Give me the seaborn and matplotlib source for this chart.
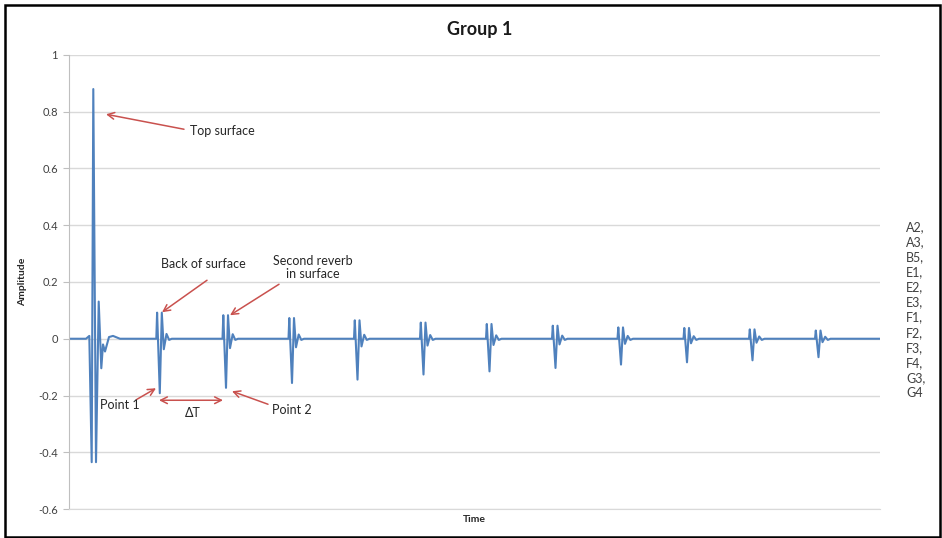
import matplotlib
matplotlib.use("Agg")
import seaborn as sns
from matplotlib import pyplot as plt
from matplotlib.patches import Rectangle

# top surface echo
top_time = [0, 17, 20.3, 22.7, 24.3, 27, 29.7, 32.3, 34, 36, 40, 44, 51]
top_amp = [0, 0, 0.01, -0.435, 0.88, -0.435, 0.131, -0.104, -0.02, -0.045, 0.006, 0.01, 0]

# reverb echoes (centre = negative lobe)
echo_centre = [90.8, 157, 223, 288.5, 354.5, 420.5, 486.5, 552, 618, 683.5, 749.5]
echo_peak = [0.092, 0.083, 0.073, 0.065, 0.057, 0.052, 0.046, 0.040, 0.038, 0.033, 0.029]
echo_trough = [-0.192, -0.173, -0.156, -0.144, -0.126, -0.115, -0.103, -0.091, -0.083, -0.076, -0.065]
echo_dip = [-0.037, -0.033, -0.030, -0.027, -0.024, -0.022, -0.020, -0.018, -0.016, -0.014, -0.012]
echo_bump = [0.017, 0.016, 0.015, 0.014, 0.013, 0.012, 0.011, 0.010, 0.009, 0.008, 0.007]

series_names = ["A2,", "A3,", "B5,", "E1,", "E2,", "E3,", "F1,", "F2,", "F3,", "F4,", "G3,", "G4"]
y_ticks = [-0.6, -0.4, -0.2, 0, 0.2, 0.4, 0.6, 0.8, 1]
t_end = 811

# build the waveform
time = list(top_time)
amp = list(top_amp)
for c, p, n, d, b in zip(echo_centre, echo_peak, echo_trough, echo_dip, echo_bump):
    time += [c - 3.5, c - 2.7, c, c + 2, c + 4, c + 6.7, c + 9.3, c + 12]
    amp += [0, p, n, p, d, b, -0.004, 0]
time.append(t_end)
amp.append(0)

sns.set_style("white")
plt.rcParams["font.family"] = ["Lato", "DejaVu Sans"]

W, H = 942, 538
fig = plt.figure(figsize=(W / 100, H / 100), dpi=100)
ax = fig.add_axes([69 / W, 29 / H, (880 - 69) / W, (509 - 55) / H])

sns.lineplot(x=time, y=amp, ax=ax, color="#4F81BD", linewidth=1.5,
             sort=False, estimator=None)

ax.set_xlim(0, t_end)
ax.set_ylim(-0.6, 1)
ax.set_yticks(y_ticks)
ax.set_yticklabels([f"{v:g}" for v in y_ticks], fontsize=8, color="#404040")
ax.set_xticks([])
ax.yaxis.grid(True, color="#D9D9D9", linewidth=1)
ax.tick_params(axis="y", length=4, color="#BFBFBF", pad=4, left=True)
for s in ["top", "right"]:
    ax.spines[s].set_visible(False)
ax.spines["left"].set_color("#BFBFBF")
ax.spines["bottom"].set_color("#D9D9D9")
ax.set_xlabel("Time", fontsize=7.5, fontweight="bold", labelpad=4)
ax.set_ylabel("Amplitude", fontsize=7.5, fontweight="bold", labelpad=8)

fig.text(480 / W, 1 - 30 / H, "Group 1", ha="center", va="center",
         fontsize=13, fontweight="bold", color="#1A1A1A")

# annotations
red = "#C9514E"
arrow = dict(arrowstyle="->", color=red, lw=1.1, shrinkA=0, shrinkB=0,
             mutation_scale=12)
txt = dict(fontsize=9, color="#262626")


def px(x, y):
    return x - 69, (337.5 - y) / 283.75


ax.text(*px(190, 130), "Top surface", ha="left", va="center", **txt)
ax.annotate("", xy=px(106, 113), xytext=px(184, 128), arrowprops=arrow)

ax.text(*px(203, 263), "Back of surface", ha="center", va="center", **txt)
ax.annotate("", xy=px(162, 311), xytext=px(207, 279), arrowprops=arrow)

ax.text(*px(313, 266), "Second reverb\nin surface", ha="center", va="center",
        linespacing=1.1, **txt)
ax.annotate("", xy=px(230, 314), xytext=px(279, 283), arrowprops=arrow)

ax.text(*px(100, 404), "Point 1", ha="left", va="center", **txt)
ax.annotate("", xy=px(156, 387), xytext=px(137, 398), arrowprops=arrow)

ax.text(*px(272, 409), "Point 2", ha="left", va="center", **txt)
ax.annotate("", xy=px(232, 390), xytext=px(268, 403), arrowprops=arrow)

ax.text(*px(193, 412), "ΔT", ha="center", va="center", **txt)
ax.annotate("", xy=px(223, 399), xytext=px(159, 399),
            arrowprops=dict(arrow, arrowstyle="<->"))

# series name column on the right
for i, name in enumerate(series_names):
    fig.text(906 / W, 1 - (227 + i * 15.1) / H, name, ha="left", va="center",
             fontsize=9, color="#404040")

# outer frame
fig.patches.append(Rectangle((5 / W, 1 / H), 935 / W, 1 - 6 / H,
                             transform=fig.transFigure, fill=False,
                             edgecolor="black", linewidth=1.8))

fig.savefig("out.png", dpi=100)
